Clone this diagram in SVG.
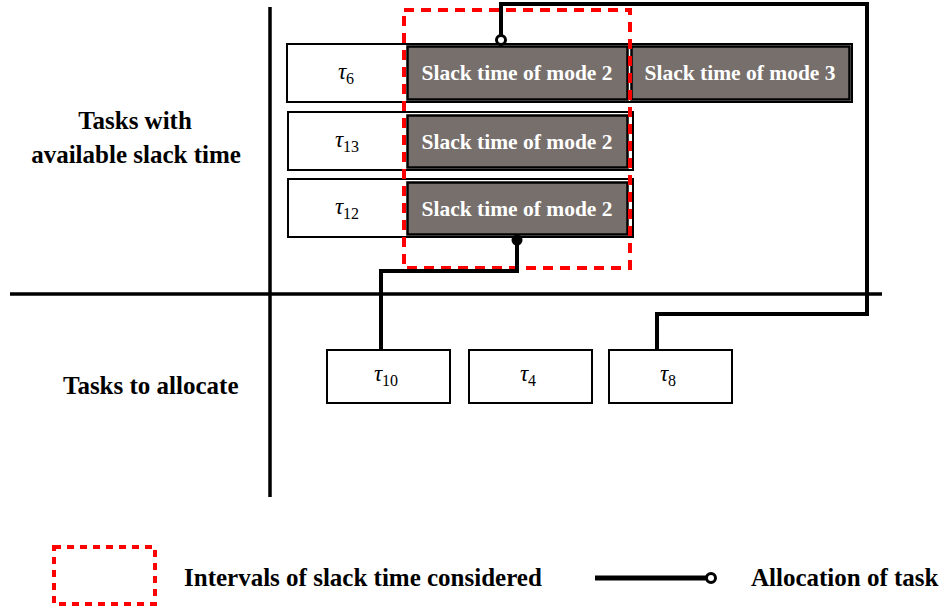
<svg xmlns="http://www.w3.org/2000/svg" width="946" height="609" viewBox="0 0 946 609">
<style>
.lbl{font-family:"Liberation Serif","Times New Roman",serif;font-weight:bold;font-size:25px;fill:#000}
.slk{font-family:"Liberation Serif","Times New Roman",serif;font-weight:bold;font-size:21.5px;fill:#fff;text-anchor:middle}
.tau{font-family:"Liberation Serif","Times New Roman",serif;font-size:23px;fill:#000;text-anchor:middle}
.tau tspan.i{font-style:italic}
.tau tspan.s{font-size:16px}
.row{fill:#fff;stroke:#000;stroke-width:2}
.dark{fill:#776f6c;stroke:#000;stroke-width:2.5}
.task{fill:#fff;stroke:#000;stroke-width:2}
.axis{stroke:#000;stroke-width:3.5;fill:none}
.conn{stroke:#000;stroke-width:4;fill:none;stroke-linejoin:miter}
.red{fill:none;stroke:#ff0000;stroke-width:4;stroke-dasharray:10 7}
</style>
<rect width="946" height="609" fill="#fff"/>
<g id="axes">
<line class="axis" x1="270" y1="7" x2="270" y2="497"/>
<line class="axis" x1="10" y1="294" x2="882" y2="294"/>
</g>
<g id="labels">
<text class="lbl" x="135" y="129" text-anchor="middle">Tasks with</text>
<text class="lbl" x="136" y="163" text-anchor="middle">available slack time</text>
<text class="lbl" x="63" y="394">Tasks to allocate</text>
</g>
<g id="row-tau6">
<rect class="row" x="287" y="44" width="565" height="58"/>
<text class="tau" x="346" y="79"><tspan class="i">τ</tspan><tspan class="s" dy="5">6</tspan></text>
</g>
<g id="slack-tau6-m2">
<rect class="dark" x="407.5" y="46.5" width="220" height="53"/>
<text class="slk" x="517" y="80">Slack time of mode 2</text>
</g>
<g id="slack-tau6-m3">
<rect class="dark" x="631.5" y="46.5" width="218" height="53"/>
<text class="slk" x="740" y="80">Slack time of mode 3</text>
</g>
<g id="row-tau13">
<rect class="row" x="288" y="112" width="345" height="58"/>
<text class="tau" x="347" y="147"><tspan class="i">τ</tspan><tspan class="s" dy="5">13</tspan></text>
</g>
<g id="slack-tau13-m2">
<rect class="dark" x="407.5" y="115.5" width="220" height="52"/>
<text class="slk" x="517" y="149">Slack time of mode 2</text>
</g>
<g id="row-tau12">
<rect class="row" x="288" y="179" width="345" height="58"/>
<text class="tau" x="347" y="214"><tspan class="i">τ</tspan><tspan class="s" dy="5">12</tspan></text>
</g>
<g id="slack-tau12-m2">
<rect class="dark" x="407.5" y="182.5" width="220" height="52"/>
<text class="slk" x="517" y="216">Slack time of mode 2</text>
</g>
<g id="tau10">
<rect class="task" x="327" y="350" width="123" height="53"/>
<text class="tau" x="386" y="381"><tspan class="i">τ</tspan><tspan class="s" dy="5">10</tspan></text>
</g>
<g id="tau4">
<rect class="task" x="469" y="350" width="123" height="53"/>
<text class="tau" x="528" y="381"><tspan class="i">τ</tspan><tspan class="s" dy="5">4</tspan></text>
</g>
<g id="tau8">
<rect class="task" x="609" y="350" width="123" height="53"/>
<text class="tau" x="668" y="381"><tspan class="i">τ</tspan><tspan class="s" dy="5">8</tspan></text>
</g>
<g id="interval">
<rect class="red" x="404" y="10" width="226" height="258"/>
</g>
<g id="connectors">
<polyline class="conn" points="657,350 657,314 867,314 867,4 501,4 501,35"/>
<circle cx="501" cy="40" r="4.5" fill="#fff" stroke="#000" stroke-width="3"/>
<polyline class="conn" points="381,350 381,271 517,271 517,240"/>
<circle cx="517" cy="240" r="5.5" fill="#000"/>
</g>
<g id="legend">
<rect x="54" y="547" width="101" height="57" fill="none" stroke="#ff0000" stroke-width="4" stroke-dasharray="7 6"/>
<text class="lbl" x="184" y="586">Intervals of slack time considered</text>
<line x1="595" y1="578" x2="707" y2="578" stroke="#000" stroke-width="5"/>
<circle cx="711" cy="578" r="4.5" fill="#fff" stroke="#000" stroke-width="3"/>
<text class="lbl" x="751" y="586">Allocation of task</text>
</g>
</svg>
